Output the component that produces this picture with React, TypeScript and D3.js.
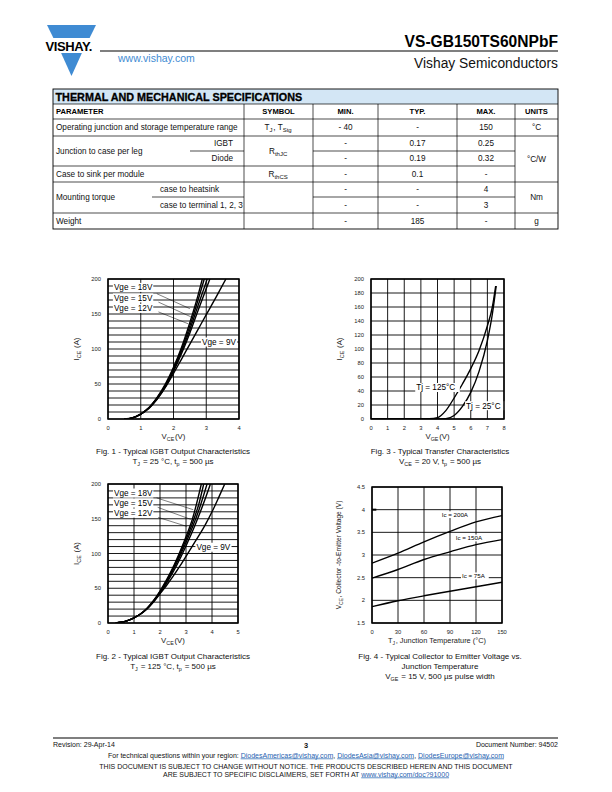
import * as d3 from 'd3';
import type { ReactNode } from 'react';

type Pt = [number, number];

const FONT = "'Liberation Sans', Arial, Helvetica, sans-serif";
const BLUE = '#3f8bd3';
const LINK = '#1f62b0';

// ---------- table data
const tableTitle = 'THERMAL AND MECHANICAL SPECIFICATIONS';
const tableHead = ['PARAMETER', 'SYMBOL', 'MIN.', 'TYP.', 'MAX.', 'UNITS'];
const minCol = ['- 40', '-', '-', '-', '-', '-', '-'];
const typCol = ['-', '0.17', '0.19', '0.1', '-', '-', '185'];
const maxCol = ['150', '0.25', '0.32', '-', '4', '3', '-'];

// ---------- Fig. 1, Tj = 25 °C
const fig1CurveA: Pt[] = [[0.5, 0], [0.75, 1.6], [1, 7], [1.25, 16], [1.5, 31], [1.75, 50], [2, 74], [2.25, 103], [2.5, 138], [2.75, 177], [2.88, 200]];
const fig1CurveB: Pt[] = [[0.5, 0], [0.75, 1.6], [1, 7], [1.25, 16], [1.5, 30], [1.75, 48], [2, 72], [2.25, 100], [2.5, 133], [2.75, 170], [2.94, 200]];
const fig1CurveC: Pt[] = [[0.5, 0], [0.75, 1.6], [1, 7], [1.25, 16], [1.5, 30], [1.75, 47], [2, 70], [2.25, 97], [2.5, 128], [2.75, 162], [3.03, 200]];
const fig1CurveD: Pt[] = [[0.5, 0], [0.75, 1.6], [1, 7], [1.25, 16], [1.5, 29], [1.75, 46], [2, 68], [2.25, 94], [2.5, 123], [2.75, 155], [3.11, 200]];
const fig1Vge9: Pt[] = [[0.5, 0], [0.75, 2], [1, 7], [1.25, 15], [1.5, 28], [1.75, 45], [2, 65], [2.25, 86], [2.5, 107], [2.75, 128], [3, 149], [3.3, 174], [3.6, 200]];
const fig1XTicks = [0, 1, 2, 3, 4];
const fig1YTicks = [0, 50, 100, 150, 200];

// ---------- Fig. 2, Tj = 125 °C
const fig2CurveA: Pt[] = [[0.3, 0], [0.5, 1], [0.75, 3.5], [1, 7.5], [1.25, 13], [1.5, 21], [1.75, 32], [2, 46], [2.25, 62], [2.5, 80], [2.75, 101], [3, 124], [3.25, 150], [3.59, 200]];
const fig2CurveB: Pt[] = [[0.3, 0], [0.5, 1], [0.75, 3.5], [1, 7.5], [1.25, 13], [1.5, 21], [1.75, 32], [2, 45], [2.25, 60], [2.5, 78], [2.75, 98], [3, 120], [3.25, 144], [3.5, 172], [3.68, 200]];
const fig2CurveC: Pt[] = [[0.3, 0], [0.5, 1], [0.75, 3.5], [1, 7.5], [1.25, 13], [1.5, 21], [1.75, 31], [2, 44], [2.25, 59], [2.5, 76], [2.75, 95], [3, 116], [3.25, 138], [3.5, 163], [3.81, 200]];
const fig2CurveD: Pt[] = [[0.3, 0], [0.5, 1], [0.75, 3.5], [1, 7.5], [1.25, 13], [1.5, 21], [1.75, 31], [2, 43], [2.25, 57], [2.5, 73], [2.75, 91], [3, 111], [3.25, 132], [3.5, 155], [3.75, 180], [3.94, 200]];
const fig2Vge9: Pt[] = [[0.3, 0], [0.5, 1], [0.75, 3.5], [1, 7.5], [1.25, 13], [1.5, 20], [1.75, 30], [2, 42], [2.25, 54], [2.5, 67], [2.75, 81], [3, 96], [3.25, 111], [3.5, 126], [3.75, 142], [4, 160], [4.25, 180], [4.49, 200]];
const fig2XTicks = [0, 1, 2, 3, 4, 5];
const fig2YTicks = [0, 50, 100, 150, 200];

// ---------- Fig. 3, transfer
const fig3Tj125: Pt[] = [[0, 0], [3, 0], [3.5, 0.3], [4, 2], [4.5, 12], [5, 30], [5.5, 50], [6, 72], [6.5, 98], [7, 133], [7.3, 160], [7.5, 190]];
const fig3Tj25: Pt[] = [[0, 0], [4, 0], [4.5, 0.5], [5, 5], [5.5, 18], [6, 38], [6.5, 68], [7, 112], [7.3, 150], [7.53, 190]];
const fig3XTicks = [0, 1, 2, 3, 4, 5, 6, 7, 8];
const fig3YTicks = [0, 20, 40, 60, 80, 100, 120, 140, 160, 180, 200];

// ---------- Fig. 4, VCE vs Tj
const fig4Ic200: Pt[] = [[0, 2.82], [30, 3.04], [60, 3.29], [90, 3.52], [120, 3.73], [150, 3.87]];
const fig4Ic150: Pt[] = [[0, 2.49], [30, 2.68], [60, 2.9], [90, 3.07], [120, 3.23], [150, 3.34]];
const fig4Ic75: Pt[] = [[0, 1.86], [30, 1.99], [60, 2.1], [90, 2.2], [120, 2.3], [150, 2.4]];
const fig4XTicks = [0, 30, 60, 90, 120, 150];
const fig4YTicks = [1.5, 2, 2.5, 3, 3.5, 4, 4.5];

interface Note { text: string; x: number; y: number; fs?: number }
interface ChartProps {
  id: string;
  box: { x: number; y: number; w: number; h: number };
  xDomain: [number, number];
  yDomain: [number, number];
  xStep: number;
  yStep: number;
  xTicks: number[];
  yTicks: number[];
  series: Pt[][];
  notes?: Note[];
  leaders?: [number, number, number, number][];
  stubs?: [number, number, number][];
  xTitle: ReactNode;
  yTitle: ReactNode;
  yTitleX: number;
  tickFs?: number;
}

function Chart(p: ChartProps) {
  const { box } = p;
  const x = d3.scaleLinear().domain(p.xDomain).range([box.x, box.x + box.w]);
  const y = d3.scaleLinear().domain(p.yDomain).range([box.y + box.h, box.y]);
  const line = d3.line<Pt>().x(d => x(d[0])).y(d => y(d[1])).curve(d3.curveMonotoneX);
  const eps = 1e-9;
  const gx = d3.range(p.xDomain[0], p.xDomain[1] + eps, p.xStep);
  const gy = d3.range(p.yDomain[0], p.yDomain[1] + eps, p.yStep);
  const tfs = p.tickFs ?? 5.8;

  return (
    <g>
      <defs>
        <clipPath id={p.id}>
          <rect x={box.x} y={box.y} width={box.w} height={box.h} />
        </clipPath>
      </defs>
      {gx.map(v => (
        <line key={'gx' + v} x1={x(v)} x2={x(v)} y1={box.y} y2={box.y + box.h} stroke="#000" strokeWidth={0.9} />
      ))}
      {gy.map(v => (
        <line key={'gy' + v} x1={box.x} x2={box.x + box.w} y1={y(v)} y2={y(v)} stroke="#000" strokeWidth={0.9} />
      ))}
      <g clipPath={`url(#${p.id})`}>
        {p.series.map((s, i) => (
          <path key={i} d={line(s) || ''} fill="none" stroke="#000" strokeWidth={1.4} />
        ))}
      </g>
      {(p.stubs || []).map((s, i) => (
        <line key={'st' + i} x1={x(s[0])} x2={x(s[1])} y1={y(s[2])} y2={y(s[2])} stroke="#000" strokeWidth={2} />
      ))}
      {(p.leaders || []).map((l, i) => (
        <line key={'ld' + i} x1={x(l[0])} y1={y(l[1])} x2={x(l[2])} y2={y(l[3])} stroke="#000" strokeWidth={0.5} />
      ))}
      {(p.notes || []).map((n, i) => {
        const fs = n.fs ?? 8.2;
        const w = n.text.length * fs * 0.52 + 2;
        return (
          <g key={'n' + i}>
            <rect x={x(n.x) - 1} y={y(n.y) - fs * 0.55} width={w} height={fs * 1.1} fill="#fff" />
            <text x={x(n.x)} y={y(n.y) + fs * 0.35} fontSize={fs} fill="#000">{n.text}</text>
          </g>
        );
      })}
      <rect x={box.x} y={box.y} width={box.w} height={box.h} fill="none" stroke="#000" strokeWidth={1.5} />
      {p.xTicks.map(v => (
        <text key={'tx' + v} x={x(v)} y={box.y + box.h + 11} fontSize={tfs} textAnchor="middle" fill="#222">{v}</text>
      ))}
      {p.yTicks.map(v => (
        <text key={'ty' + v} x={box.x - 7} y={y(v) + 2} fontSize={tfs} textAnchor="end" fill="#222">{v}</text>
      ))}
      <text x={box.x + box.w / 2} y={box.y + box.h + 20} fontSize={7.8} textAnchor="middle" fill="#222">{p.xTitle}</text>
      <text transform={`translate(${p.yTitleX},${box.y + box.h / 2}) rotate(-90)`} fontSize={7.8} textAnchor="middle" fill="#222">{p.yTitle}</text>
    </g>
  );
}

const sub = (s: string, fs = 5.4) => [
  <tspan key="a" fontSize={fs} dy={1.8}>{s}</tspan>,
  <tspan key="b" dy={-1.8}>{'\u200a'}</tspan>,
];

function Table() {
  const cx = [53, 244, 313, 378, 457, 515, 558];
  const ry = [89, 104, 119, 136, 151, 166, 182, 197, 213, 229];
  const mid = (i: number) => (ry[i] + ry[i + 1]) / 2 + 2.8;
  const span = (a: number, b: number) => (ry[a] + ry[b]) / 2 + 2.8;
  const colMid = (c: number) => (cx[c] + cx[c + 1]) / 2;
  const fs = 8.2;
  const hl = (yy: number, x1: number, x2: number, k: string) => (
    <line key={k} x1={x1} x2={x2} y1={yy} y2={yy} stroke="#000" strokeWidth={0.7} />
  );
  return (
    <g fontSize={fs} fill="#111">
      <rect x={cx[0]} y={ry[0]} width={cx[6] - cx[0]} height={ry[1] - ry[0]} fill="#d3e6f5" />
      <text x={cx[0] + 2.5} y={ry[0] + 11.5} fontSize={10.8} fontWeight={900} fill="#000" stroke="#000" strokeWidth={0.3}>{tableTitle}</text>
      {tableHead.map((h, i) => (
        <text key={h} x={i === 0 ? cx[0] + 3 : colMid(i)} y={mid(1)} fontWeight="bold" fontSize={7.6}
          textAnchor={i === 0 ? 'start' : 'middle'} fill="#000">{h}</text>
      ))}
      {/* horizontal rules */}
      {hl(ry[1], cx[0], cx[6], 'h1')}
      {hl(ry[2], cx[0], cx[6], 'h2')}
      {hl(ry[3], cx[0], cx[6], 'h3')}
      {hl(ry[4], 190, cx[1], 'h4a')}
      {hl(ry[4], cx[2], cx[5], 'h4b')}
      {hl(ry[5], cx[0], cx[5], 'h5')}
      {hl(ry[6], cx[0], cx[6], 'h6')}
      {hl(ry[7], 152, cx[1], 'h7a')}
      {hl(ry[7], cx[2], cx[5], 'h7b')}
      {hl(ry[8], cx[0], cx[6], 'h8')}
      {cx.slice(1, 6).map(v => (
        <line key={'v' + v} x1={v} x2={v} y1={ry[1]} y2={ry[9]} stroke="#000" strokeWidth={0.7} />
      ))}
      <rect x={cx[0]} y={ry[0]} width={cx[6] - cx[0]} height={ry[9] - ry[0]} fill="none" stroke="#000" strokeWidth={0.9} />

      {/* parameter column */}
      <text x={56} y={mid(2)}>Operating junction and storage temperature range</text>
      <text x={56} y={span(3, 5)}>Junction to case per leg</text>
      <text x={233} y={mid(3)} textAnchor="end">IGBT</text>
      <text x={233} y={mid(4)} textAnchor="end">Diode</text>
      <text x={56} y={mid(5)}>Case to sink per module</text>
      <text x={56} y={span(6, 8)}>Mounting torque</text>
      <text x={160} y={mid(6)}>case to heatsink</text>
      <text x={160} y={mid(7)}>case to terminal 1, 2, 3</text>
      <text x={56} y={mid(8)}>Weight</text>

      {/* symbol column */}
      <text x={colMid(1)} y={mid(2)} textAnchor="middle">T{sub('J', 6)}, T{sub('Stg', 6)}</text>
      <text x={colMid(1)} y={span(3, 5)} textAnchor="middle">R{sub('thJC', 6)}</text>
      <text x={colMid(1)} y={mid(5)} textAnchor="middle">R{sub('thCS', 6)}</text>

      {minCol.map((v, i) => (
        <text key={'mn' + i} x={colMid(2)} y={mid(i + 2)} textAnchor="middle">{v}</text>
      ))}
      {typCol.map((v, i) => (
        <text key={'ty' + i} x={colMid(3)} y={mid(i + 2)} textAnchor="middle">{v}</text>
      ))}
      {maxCol.map((v, i) => (
        <text key={'mx' + i} x={colMid(4)} y={mid(i + 2)} textAnchor="middle">{v}</text>
      ))}
      <text x={colMid(5)} y={mid(2)} textAnchor="middle">°C</text>
      <text x={colMid(5)} y={span(3, 6)} textAnchor="middle">°C/W</text>
      <text x={colMid(5)} y={span(6, 8)} textAnchor="middle">Nm</text>
      <text x={colMid(5)} y={mid(8)} textAnchor="middle">g</text>
    </g>
  );
}

function Header() {
  return (
    <g>
      <polygon points="47,25 96,25 89.6,38 53.4,38" fill={BLUE} />
      <polygon points="61.1,53 81.9,53 71.5,76" fill={BLUE} />
      <text x={45.5} y={50.5} fontSize={13} fontWeight="bold" fill="#000" letterSpacing={-0.4}>VISHAY.</text>
      <text x={558} y={47} fontSize={15.6} fontWeight="bold" textAnchor="end" fill="#000">VS-GB150TS60NPbF</text>
      <line x1={100} x2={558} y1={51} y2={51} stroke="#000" strokeWidth={1.2} />
      <text x={118} y={62} fontSize={10.5} fill={BLUE}>www.vishay.com</text>
      <text x={558} y={67.5} fontSize={13.8} textAnchor="end" fill="#111">Vishay Semiconductors</text>
    </g>
  );
}

function Caption({ cx, y, lines }: { cx: number; y: number; lines: ReactNode[] }) {
  return (
    <g>
      {lines.map((l, i) => (
        <text key={i} x={cx} y={y + i * 10} fontSize={8} textAnchor="middle" fill="#111">{l}</text>
      ))}
    </g>
  );
}

function Footer() {
  const link = (s: string) => <tspan fill={LINK} textDecoration="underline">{s}</tspan>;
  return (
    <g fontSize={7} fill="#111">
      <line x1={53} x2={558} y1={738} y2={738} stroke="#000" strokeWidth={1.2} />
      <text x={53} y={747}>Revision: 29-Apr-14</text>
      <text x={306} y={748} textAnchor="middle" fontWeight="bold" fontSize={7.4}>3</text>
      <text x={558} y={747} textAnchor="end">Document Number: 94502</text>
      <text x={306} y={757.5} textAnchor="middle">
        For technical questions within your region: {link('DiodesAmericas@vishay.com')}, {link('DiodesAsia@vishay.com')}, {link('DiodesEurope@vishay.com')}
      </text>
      <text x={306} y={768.5} textAnchor="middle">THIS DOCUMENT IS SUBJECT TO CHANGE WITHOUT NOTICE. THE PRODUCTS DESCRIBED HEREIN AND THIS DOCUMENT</text>
      <text x={306} y={776.5} textAnchor="middle">ARE SUBJECT TO SPECIFIC DISCLAIMERS, SET FORTH AT {link('www.vishay.com/doc?91000')}</text>
    </g>
  );
}

const vce = <>V{sub('CE')}(V)</>;
const ice = <>I{sub('CE')} (A)</>;

export default function App() {
  return (
    <div style={{ position: 'absolute', left: 0, top: 0 }}>
      <svg width={612} height={792} viewBox="0 0 612 792" style={{ display: 'block', background: '#fff' }} fontFamily={FONT}>
        <Header />
        <Table />

        <Chart
          id="c1" box={{ x: 108, y: 279, w: 131, h: 140 }} xDomain={[0, 4]} yDomain={[0, 200]} xStep={1} yStep={10}
          xTicks={fig1XTicks} yTicks={fig1YTicks}
          series={[fig1CurveA, fig1CurveB, fig1CurveC, fig1CurveD, fig1Vge9]}
          notes={[
            { text: 'Vge = 18V', x: 0.18, y: 188 },
            { text: 'Vge = 15V', x: 0.18, y: 173 },
            { text: 'Vge = 12V', x: 0.18, y: 158 },
            { text: 'Vge = 9V', x: 2.87, y: 110 },
          ]}
          leaders={[[1.49, 179, 2.5, 157.6], [1.54, 167, 2.53, 146], [1.54, 153, 2.45, 136]]}
          xTitle={vce} yTitle={ice} yTitleX={79}
        />
        <Caption cx={173} y={454} lines={[
          'Fig. 1 - Typical IGBT Output Characteristics',
          <>T{sub('J')} = 25 °C, t{sub('p')} = 500 µs</>,
        ]} />

        <Chart
          id="c3" box={{ x: 371, y: 279, w: 133, h: 140 }} xDomain={[0, 8]} yDomain={[0, 200]} xStep={1} yStep={20}
          xTicks={fig3XTicks} yTicks={fig3YTicks}
          series={[fig3Tj125, fig3Tj25]}
          notes={[
            { text: 'Tj = 125°C', x: 2.72, y: 45 },
            { text: 'Tj = 25°C', x: 5.72, y: 19 },
          ]}
          xTitle={<>V{sub('GE')}(V)</>} yTitle={ice} yTitleX={342}
        />
        <Caption cx={440} y={454} lines={[
          'Fig. 3 - Typical Transfer Characteristics',
          <>V{sub('CE')} = 20 V, t{sub('p')} = 500 µs</>,
        ]} />

        <Chart
          id="c2" box={{ x: 108, y: 484, w: 130, h: 139 }} xDomain={[0, 5]} yDomain={[0, 200]} xStep={1} yStep={10}
          xTicks={fig2XTicks} yTicks={fig2YTicks}
          series={[fig2CurveA, fig2CurveB, fig2CurveC, fig2CurveD, fig2Vge9]}
          notes={[
            { text: 'Vge = 18V', x: 0.23, y: 187 },
            { text: 'Vge = 15V', x: 0.23, y: 172.7 },
            { text: 'Vge = 12V', x: 0.23, y: 158 },
            { text: 'Vge = 9V', x: 3.4, y: 109 },
          ]}
          leaders={[[1.87, 180, 3.28, 163], [1.91, 166.5, 3.19, 149], [1.93, 152, 3.03, 139]]}
          xTitle={vce} yTitle={ice} yTitleX={79}
        />
        <Caption cx={173} y={659} lines={[
          'Fig. 2 - Typical IGBT Output Characteristics',
          <>T{sub('J')} = 125 °C, t{sub('p')} = 500 µs</>,
        ]} />

        <Chart
          id="c4" box={{ x: 372, y: 487, w: 130, h: 136 }} xDomain={[0, 150]} yDomain={[1.5, 4.5]} xStep={30} yStep={0.5}
          xTicks={fig4XTicks} yTicks={fig4YTicks}
          series={[fig4Ic200, fig4Ic150, fig4Ic75]}
          notes={[
            { text: 'Ic = 200A', x: 80.4, y: 3.89, fs: 6.2 },
            { text: 'Ic = 150A', x: 96.6, y: 3.375, fs: 6.2 },
            { text: 'Ic = 75A', x: 103.8, y: 2.54, fs: 6.2 },
          ]}
          stubs={[[0, 5, 4]]}
          xTitle={<tspan fontSize={7.4}>T{sub('J', 5)}, Junction Temperature (°C)</tspan>}
          yTitle={<tspan fontSize={6.6}>V{sub('CE', 5)}, Collector -to-Emitter Voltage (V)</tspan>}
          yTitleX={341}
        />
        <Caption cx={440} y={659} lines={[
          'Fig. 4 - Typical Collector to Emitter Voltage vs.',
          'Junction Temperature',
          <>V{sub('GE')} = 15 V, 500 µs pulse width</>,
        ]} />

        <Footer />
      </svg>
    </div>
  );
}
